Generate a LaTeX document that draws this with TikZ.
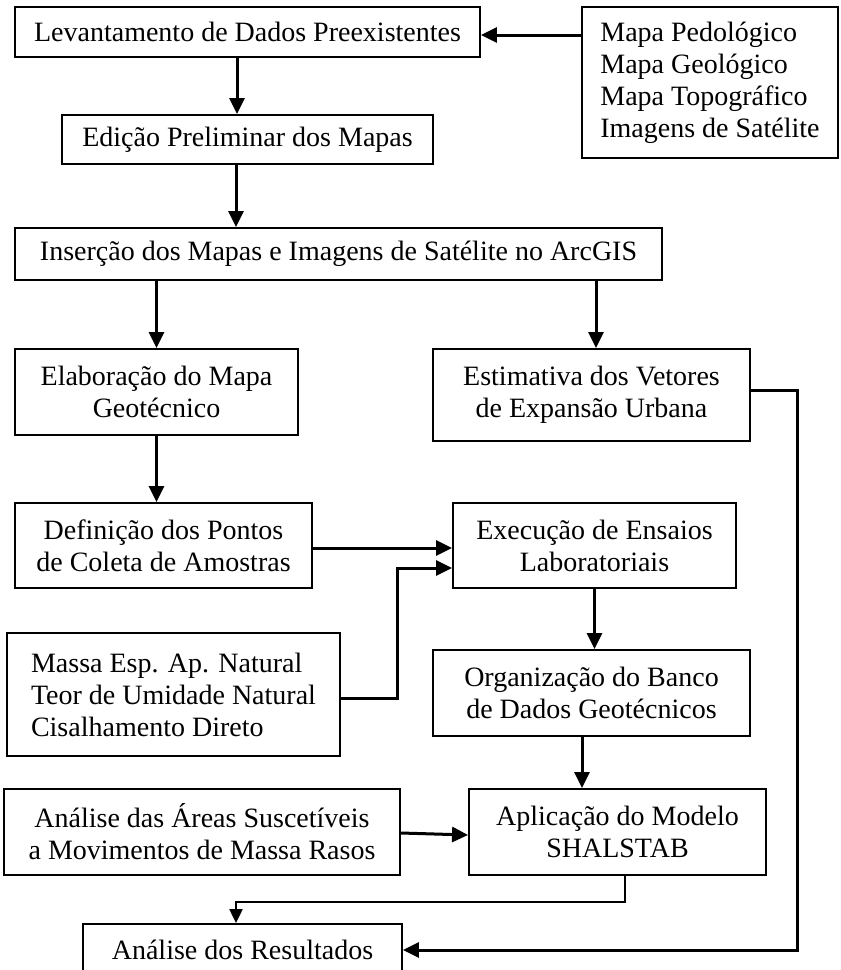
\documentclass[tikz,border=0pt]{standalone}
\usepackage{fontspec}
\setmainfont{Liberation Serif}
\usetikzlibrary{arrows.meta,calc}
\begin{document}
\begin{tikzpicture}[x=1pt,y=-1pt,
  box/.style={draw, line width=1.9pt, inner sep=0pt, align=center,
    font=\fontsize{28}{32}\selectfont},
  listbox/.style={box, align=left},
  arr/.style={line width=3pt, -{Triangle[length=16pt,width=15pt]}},
  thinarr/.style={line width=2.2pt, -{Triangle[length=14pt,width=13pt]}},
]
\path[use as bounding box, clip] (0,0) rectangle (841,970);

% process boxes
\node[box, minimum width=465pt, minimum height=50pt] (lev) at (247.5,32)
  {Levantamento de Dados Preexistentes};
\node[listbox, minimum width=256pt, minimum height=151pt] (mapas) at (710,82.5)
  {Mapa Pedológico\\Mapa Geológico\\Mapa Topográfico\\Imagens de Satélite};
\node[box, minimum width=371pt, minimum height=49pt] (edic) at (247.5,139.5)
  {Edição Preliminar dos Mapas};
\node[box, minimum width=647pt, minimum height=52pt] (ins) at (338.5,254)
  {Inserção dos Mapas e Imagens de Satélite no ArcGIS};
\node[box, minimum width=283pt, minimum height=86pt] (elab) at (156.5,392)
  {Elaboração do Mapa\\Geotécnico};
\node[box, minimum width=317pt, minimum height=92pt] (est) at (591.5,395)
  {Estimativa dos Vetores\\de Expansão Urbana};
\node[box, minimum width=297pt, minimum height=85pt] (def) at (163.5,545.5)
  {Definição dos Pontos\\de Coleta de Amostras};
\node[box, minimum width=283pt, minimum height=85pt] (exec) at (594.5,545.5)
  {Execução de Ensaios\\Laboratoriais};
\node[listbox, minimum width=333pt, minimum height=123pt] (massa) at (173.5,694.5)
  {Massa Esp. Ap. Natural\\Teor de Umidade Natural\\Cisalhamento Direto};
\node[box, minimum width=317pt, minimum height=86pt] (org) at (591.5,693)
  {Organização do Banco\\de Dados Geotécnicos};
\node[box, minimum width=297pt, minimum height=86pt] (apl) at (617.5,832)
  {Aplicação do Modelo\\SHALSTAB};
\node[box, minimum width=396pt, minimum height=86pt] (areas) at (202,832)
  {Análise das Áreas Suscetíveis\\a Movimentos de Massa Rasos};
\node[box, minimum width=319pt, minimum height=52pt] (res) at (242.5,950)
  {Análise dos Resultados};

% connector end points off the box centres
\coordinate (levin)  at ($(lev.east)+(0,3)$);
\coordinate (levout) at ($(lev.south)+(-10.5,0)$);
\coordinate (edout)  at ($(edic.south)+(-11.5,0)$);
\coordinate (estin)  at ($(est.north)+(4.5,0)$);
\coordinate (estout) at ($(est.east)+(0,-5)$);
\coordinate (defout) at ($(def.east)+(0,2.5)$);
\coordinate (masout) at ($(massa.east)+(0,3.5)$);
\coordinate (exin)   at ($(exec.west)+(0,22.5)$);
\coordinate (orgout) at ($(org.south)+(-9.5,0)$);
\coordinate (arout)  at ($(areas.east)+(0,1)$);
\coordinate (aplin)  at ($(apl.west)+(0,3)$);
\coordinate (aplout) at ($(apl.south)+(7.5,0)$);
\coordinate (resin)  at ($(res.north)+(-6.5,0)$);

% connectors
\draw[arr] (levin -| mapas.west) -- (levin);
\draw[arr] (levout) -- (levout |- edic.north);
\draw[arr] (edout) -- (edout |- ins.north);
\draw[arr] (ins.south -| elab.north) -- (elab.north);
\draw[arr] (estin |- ins.south) -- (estin);
\draw[arr] (estout) -- ++(47,0) |- (res.east);
\draw[arr] (elab.south) -- (elab.south |- def.north);
\draw[arr] (defout) -- (defout -| exec.west);
\draw[arr] (masout) -- ++(57,0) |- (exin);
\draw[arr] (exec.south) -- (exec.south |- org.north);
\draw[arr] (orgout) -- (orgout |- apl.north);
\draw[arr] (arout) -- (aplin);
\draw[thinarr] (aplout) -- ++(0,26) -| (resin);
\end{tikzpicture}
\end{document}
